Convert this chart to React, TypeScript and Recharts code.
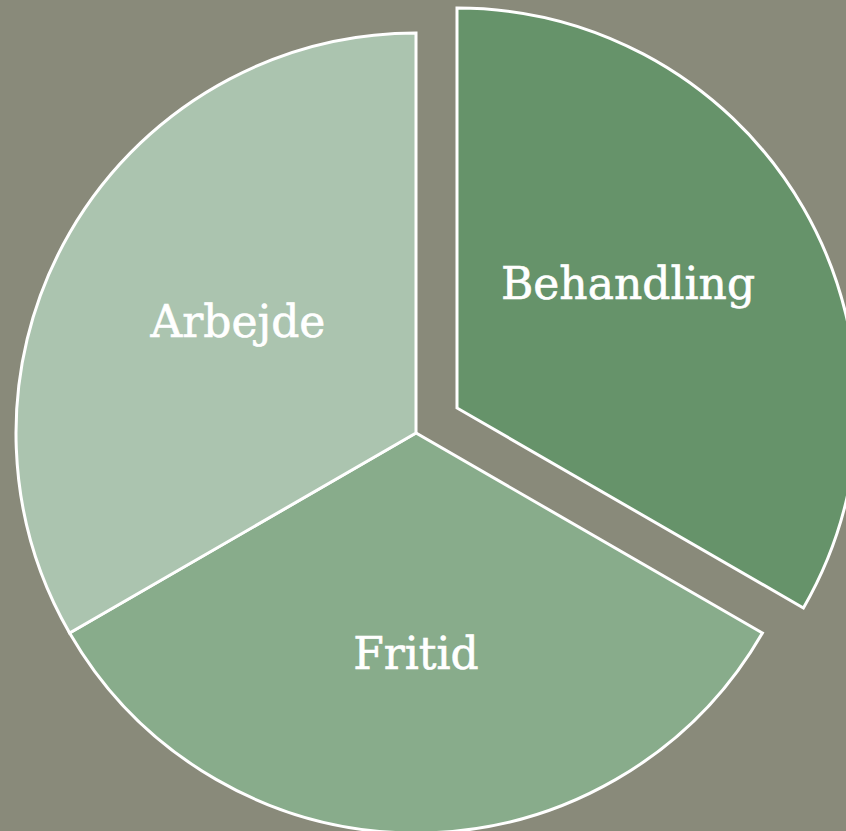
import { PieChart, Pie, Cell } from "recharts";

const categories = ["Behandling", "Fritid", "Arbejde"];
const shares = [1, 1, 1];
const colors = ["#66936a", "#88ac8b", "#abc4af"];
const exploded = "Behandling";

const data = categories.map((name, i) => ({ name, value: shares[i] }));

// small hand nudges so the labels sit where the original placed them
const labelNudge: Record<string, [number, number]> = {
  Behandling: [-16, -17],
  Fritid: [0, 4],
  Arbejde: [9, -4],
};

const RAD = Math.PI / 180;

function renderLabel(props: any) {
  const { cx, cy, midAngle, outerRadius, name } = props;
  const r = outerRadius * 0.54;
  const [dx, dy] = labelNudge[name] || [0, 0];
  const x = cx + r * Math.cos(-midAngle * RAD) + dx;
  const y = cy + r * Math.sin(-midAngle * RAD) + dy;
  return (
    <text
      x={x}
      y={y}
      fill="#ffffff"
      textAnchor="middle"
      dominantBaseline="central"
      fontFamily="'DejaVu Serif', serif"
      fontSize={44}
      stroke="#ffffff"
      strokeWidth={0.6}
    >
      {name}
    </text>
  );
}

export default function App() {
  return (
    <div style={{ position: "fixed", left: 0, top: 0, width: 846, height: 831, background: "#898a7a" }}>
      <PieChart width={846} height={831} margin={{ top: 0, right: 0, bottom: 0, left: 0 }}>
        {/* the slices that stay in place */}
        <Pie
          data={data}
          dataKey="value"
          nameKey="name"
          cx={416}
          cy={433}
          outerRadius={400}
          startAngle={90}
          endAngle={-270}
          stroke="#ffffff"
          strokeWidth={3}
          labelLine={false}
          label={(p: any) => (p.name === exploded ? null : renderLabel(p))}
          isAnimationActive={false}
        >
          {data.map((d, i) => (
            <Cell
              key={d.name}
              fill={d.name === exploded ? "transparent" : colors[i]}
              stroke={d.name === exploded ? "none" : "#ffffff"}
            />
          ))}
        </Pie>
        {/* the pulled-out slice */}
        <Pie
          data={data}
          dataKey="value"
          nameKey="name"
          cx={457}
          cy={408}
          outerRadius={400}
          startAngle={90}
          endAngle={-270}
          stroke="#ffffff"
          strokeWidth={3}
          labelLine={false}
          label={(p: any) => (p.name === exploded ? renderLabel(p) : null)}
          isAnimationActive={false}
        >
          {data.map((d, i) => (
            <Cell
              key={d.name}
              fill={d.name === exploded ? colors[i] : "transparent"}
              stroke={d.name === exploded ? "#ffffff" : "none"}
            />
          ))}
        </Pie>
      </PieChart>
    </div>
  );
}
